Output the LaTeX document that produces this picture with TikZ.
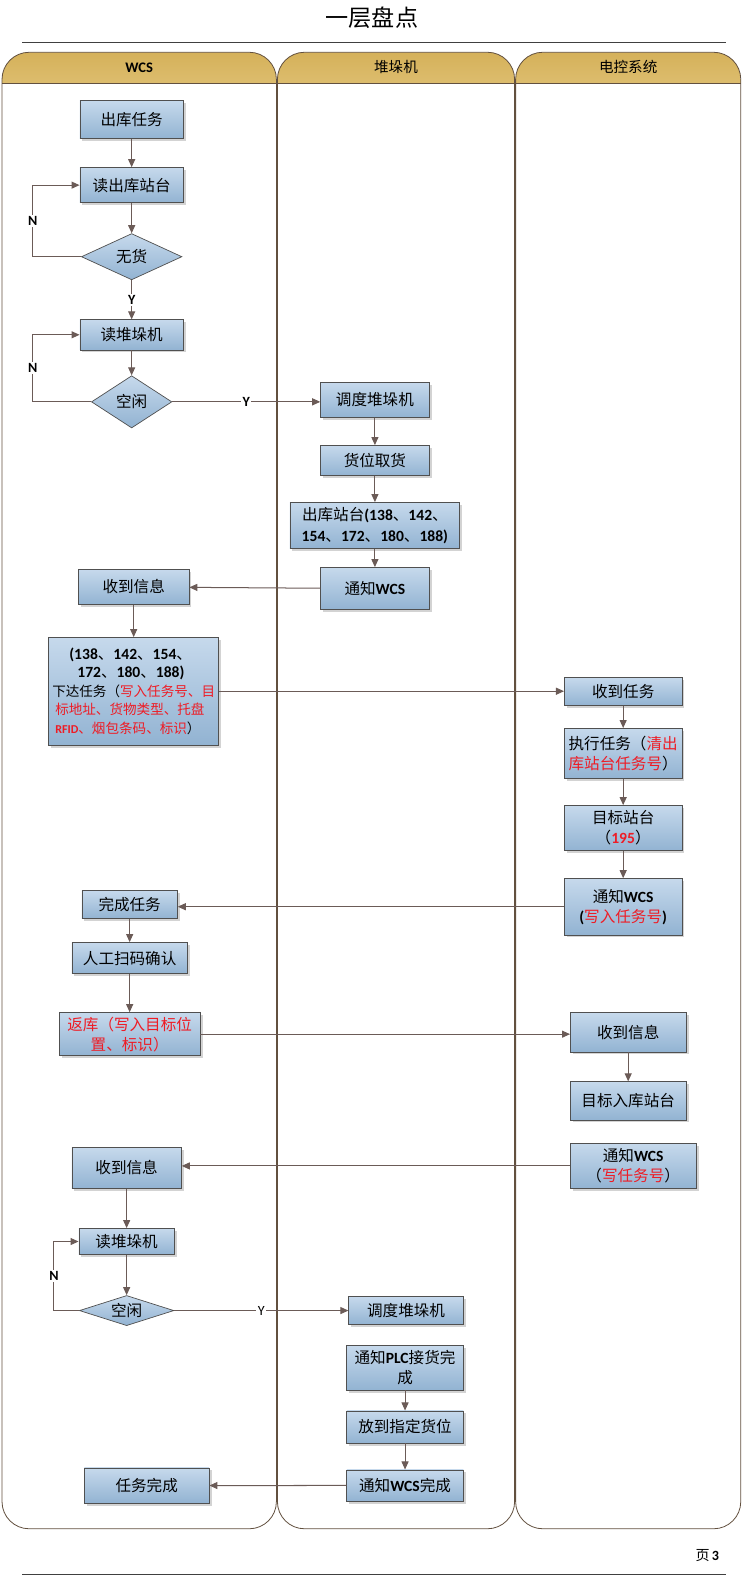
\documentclass[tikz,border=0pt]{standalone}
\usepackage{fontspec}
\setmainfont{Noto Sans CJK SC}
\newfontfamily\latf{Carlito}
\usetikzlibrary{positioning, arrows.meta, shapes.geometric, shadows}
\definecolor{boxtop}{HTML}{C6D9EC}
\definecolor{boxbot}{HTML}{92B3D2}
\definecolor{boxline}{HTML}{505050}
\definecolor{hdrtop}{HTML}{D5B15A}
\definecolor{hdrbot}{HTML}{E6CB85}
\definecolor{laneline}{HTML}{62503F}
\definecolor{flow}{HTML}{6B5B57}
\definecolor{redtxt}{HTML}{EE1C25}
\newcommand{\lb}[1]{{\latf\bfseries #1}}
\newcommand{\rt}[1]{\textcolor{redtxt}{#1}}

\begin{document}
\begin{tikzpicture}[
  x=1pt, y=-1pt,
  boxfill/.style={draw=boxline, line width=0.7pt, top color=boxtop, bottom color=boxbot,
                  align=center, font=\fontsize{15.5}{20}\selectfont},
  task/.style={boxfill, rectangle, inner sep=2pt,
               drop shadow={shadow xshift=2.5pt, shadow yshift=-2.5pt, fill=black!50, opacity=.35}},
  cond/.style={boxfill, diamond, inner sep=0pt},
  arr/.style={-{Triangle[length=8pt,width=7pt]}, draw=flow, line width=1pt},
  lab/.style={fill=white, inner sep=1.5pt, font=\latf\bfseries\fontsize{14}{14}\selectfont}
]
\useasboundingbox (0,0) rectangle (739,1568);

% title and page rules
\node[font=\fontsize{23}{23}\selectfont] (title) at (370,18) {一层盘点};
\draw[black!75, line width=1pt] (22,42) -- (722,42);
\draw[black!75, line width=1pt] (22,1566) -- (722,1566);
\node[anchor=east, font=\fontsize{14}{14}\selectfont] (page) at (719,1548) {页\,\lb{3}};

% swimlanes
\foreach \xa/\xb/\hd [count=\i] in {2/275/\lb{WCS}, 276/512/堆垛机, 513/737/电控系统} {
  \begin{scope}
    \clip (\xa,50) rectangle (\xb,83);
    \path[top color=hdrtop, bottom color=hdrbot, rounded corners=27pt] (\xa,52) rectangle (\xb,120);
  \end{scope}
  \draw[laneline, line width=0.8pt, rounded corners=27pt] (\xa,52) rectangle (\xb,1521);
  \draw[laneline, line width=0.8pt] (\xa,83) -- (\xb,83);
  \node[font=\fontsize{14.5}{14.5}\selectfont] (hd\i) at ({(\xa+\xb)/2},67) {\hd};
}

% WCS, first part
\node[task, minimum width=103pt, minimum height=38pt] (b1) at (131,119) {出库任务};
\node[task, minimum width=103pt, minimum height=35pt, below=28pt of b1] (b2) {读出库站台};
\node[cond, minimum width=100pt, minimum height=46pt, shape aspect=2.2, below=30pt of b2] (d1) {无货};
\node[task, minimum width=103pt, minimum height=30pt, below=39pt of d1] (b3) {读堆垛机};
\node[cond, minimum width=80pt, minimum height=52pt, shape aspect=1.5, below=25pt of b3] (d2) {空闲};

% stacker, first part
\node[task, minimum width=108pt, minimum height=35pt] (s1) at (373,398) {调度堆垛机};
\node[task, minimum width=108pt, minimum height=30pt, below=27pt of s1] (s2) {货位取货};
\node[task, minimum width=169pt, minimum height=46pt, below=26pt of s2] (s3)
  {出库站台\lb{(138}、\lb{142}、\\\lb{154}、\lb{172}、\lb{180}、\lb{188)}};
\node[task, minimum width=108pt, minimum height=42pt, below=18pt of s3] (s4) {通知\lb{WCS}};

\node[task, minimum width=110pt, minimum height=35pt] (w1) at (133,584) {收到信息};
\node[task, minimum width=169pt, minimum height=107pt, below=32pt of w1, align=left,
      font=\fontsize{13.5}{18.5}\selectfont] (w2)
  {\hspace*{17pt}{\fontsize{15.5}{18.5}\selectfont\lb{(138}、\lb{142}、\lb{154}、}\\
   \hspace*{25pt}{\fontsize{15.5}{18.5}\selectfont\lb{172}、\lb{180}、\lb{188)}}\\
   下达任务（\rt{写入任务号、目}\\
   \hspace*{3pt}\rt{标地址、货物类型、托盘}\\
   \hspace*{3pt}\rt{{\fontsize{12}{12}\selectfont\lb{RFID}}、烟包条码、标识}）};

% control system
\node[task, minimum width=117pt, minimum height=28pt] (e1) at (620,688) {收到任务};
\node[task, minimum width=117pt, minimum height=50pt, below=22pt of e1] (e2)
  {执行任务（\rt{清出}\\\rt{库站台任务号}）};
\node[task, minimum width=117pt, minimum height=45pt, below=26pt of e2] (e3)
  {目标站台\\（\rt{\lb{195}}）};
\node[task, minimum width=117pt, minimum height=56pt, below=27pt of e3] (e4)
  {通知\lb{WCS}\\\lb{(}\rt{写入任务号}\lb{)}};

\node[task, minimum width=95pt, minimum height=28pt] (w3) at (129,900) {完成任务};
\node[task, minimum width=115pt, minimum height=31pt, below=23pt of w3] (w4) {人工扫码确认};
\node[task, minimum width=140pt, minimum height=43pt, below=38pt of w4] (w5)
  {\rt{返库（写入目标位}\\\rt{置、标识）}};

\node[task, minimum width=115pt, minimum height=39pt] (e5) at (625,1027) {收到信息};
\node[task, minimum width=115pt, minimum height=38pt, below=29pt of e5] (e6) {目标入库站台};
\node[task, minimum width=125pt, minimum height=45pt] (e7) at (630,1160)
  {通知\lb{WCS}\\（\rt{写任务号}）};

% WCS, second part
\node[task, minimum width=109pt, minimum height=41pt] (w6) at (126,1162) {收到信息};
\node[task, minimum width=95pt, minimum height=26pt, below=39pt of w6] (w7) {读堆垛机};
\node[cond, minimum width=94pt, minimum height=30pt, shape aspect=3.1, below=40pt of w7] (d3) {空闲};
\node[task, minimum width=124pt, minimum height=35pt] (w8) at (146,1478) {任务完成};

% stacker, second part
\node[task, minimum width=114pt, minimum height=28pt] (s5) at (404,1304) {调度堆垛机};
\node[task, minimum width=116pt, minimum height=44pt] (s6) at (403,1361) {通知\lb{PLC}接货完\\成};
\node[task, minimum width=116pt, minimum height=32pt, below=20pt of s6] (s7) {放到指定货位};
\node[task, minimum width=116pt, minimum height=31pt, below=26pt of s7] (s8) {通知\lb{WCS}完成};

% connectors
\draw[arr] (b1) -- (b2);
\draw[arr] (b2) -- (d1);
\draw[arr] (d1.west) -- ++(-48,0) |- (b2.west) node[lab, pos=.25] {N};
\draw[arr] (d1) -- (b3) node[lab, midway] {Y};
\draw[arr] (b3) -- (d2);
\draw[arr] (d2.west) -- ++(-58,0) |- (b3.west) node[lab, pos=.25] {N};
\draw[arr] (d2.east) -- (d2.east -| s1.west) node[lab, midway] {Y};
\draw[arr] (s1) -- (s2);
\draw[arr] (s2) -- (s3);
\draw[arr] (s3) -- (s4);
\draw[arr] (s4) -- (w1);
\draw[arr] (w1) -- (w2);
\draw[arr] (w2.east) -- (w2.east -| e1.west);
\draw[arr] (e1) -- (e2);
\draw[arr] (e2) -- (e3);
\draw[arr] (e3) -- (e4);
\draw[arr] (e4.west) -- (e4.west -| w3.east);
\draw[arr] (w3) -- (w4);
\draw[arr] (w4) -- (w5);
\draw[arr] (w5.east) -- (w5.east -| e5.west);
\draw[arr] (e5) -- (e6);
\draw[arr] (e7.west) -- (e7.west -| w6.east);
\draw[arr] (w6) -- (w7);
\draw[arr] (w7) -- (d3);
\draw[arr] (d3.west) -- ++(-25,0) |- (w7.west) node[lab, pos=.25] {N};
\draw[arr] (d3.east) -- (d3.east -| s5.west) node[lab, midway, font=\latf\fontsize{14}{14}\selectfont] {Y};
\draw[arr] (s6) -- (s7);
\draw[arr] (s7) -- (s8);
\draw[arr] (s8) -- (w8);
\end{tikzpicture}
\end{document}
